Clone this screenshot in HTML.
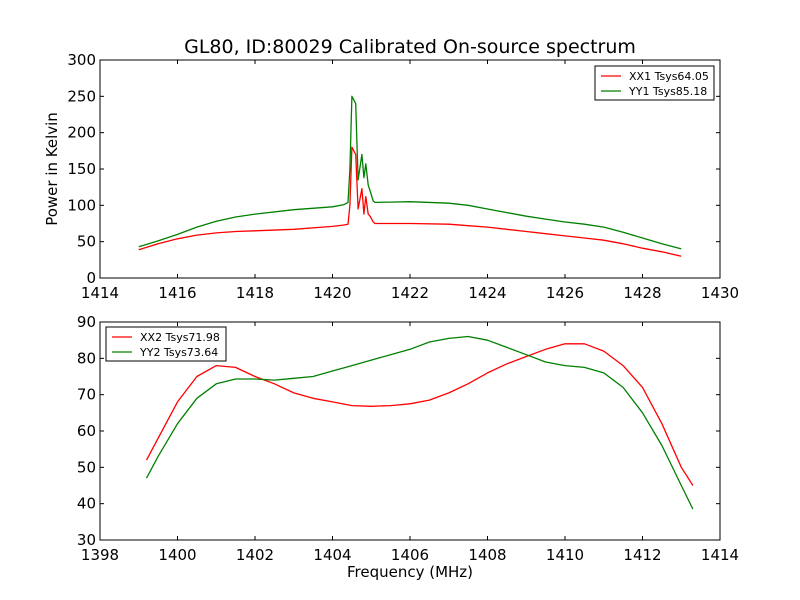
<!DOCTYPE html>
<html><head><meta charset="utf-8"><style>
body{margin:0;background:#fff}
svg{display:block;font-family:"DejaVu Sans","Liberation Sans",sans-serif}
</style></head><body>
<svg id="c" width="800" height="600">
<rect width="800" height="600" fill="#fff"/>
<text x="410" y="53" font-size="19" text-anchor="middle">GL80, ID:80029 Calibrated On-source spectrum</text>
<text transform="translate(57,169) rotate(-90)" font-size="15" text-anchor="middle">Power in Kelvin</text>
<text x="410" y="577" font-size="15" text-anchor="middle">Frequency (MHz)</text>
</svg>
<script>
const topFreqX=[1415,1415.5,1416,1416.5,1417,1417.5,1418,1419,1420,1420.3,1420.4,1420.45,1420.5,1420.6,1420.66,1420.76,1420.81,1420.86,1420.92,1420.97,1421.05,1421.1,1421.5,1422,1423,1423.5,1424,1424.5,1425,1425.5,1426,1426.5,1427,1427.5,1428,1428.5,1429];
const xx1Values=[39,47,54,59,62,64,65,67,71,73,74,100,180,170,95,123,88,112,88,85,77,75,75,75,74,72,70,67,64,61,58,55,52,47,41,36,30];
const yy1Values=[43,51,60,70,78,84,88,94,98,101,104,150,250,240,135,170,138,157,128,120,106,104,104.5,105,103,100,95,90,85,81,77,74,70,63,55,47,40];
const botFreqX=[1399.2,1399.5,1400,1400.5,1401,1401.5,1402,1402.5,1403,1403.5,1404,1404.5,1405,1405.5,1406,1406.5,1407,1407.5,1408,1408.5,1409,1409.5,1410,1410.5,1411,1411.5,1412,1412.5,1413,1413.3];
const xx2Values=[52,58,68,75,78,77.5,75,73,70.5,69,68,67,66.8,67,67.5,68.5,70.5,73,76,78.5,80.5,82.5,84,84,82,78,72,62,50,45];
const yy2Values=[47,53,62,69,73,74.3,74.3,74,74.5,75,76.5,78,79.5,81,82.5,84.5,85.5,86,85,83,81,79,78,77.5,76,72,65,56,45,38.5];
const topXTicks=[1414,1416,1418,1420,1422,1424,1426,1428,1430];
const topYTicks=[0,50,100,150,200,250,300];
const botXTicks=[1398,1400,1402,1404,1406,1408,1410,1412,1414];
const botYTicks=[30,40,50,60,70,80,90];
const svg=document.getElementById('c');
const NS='http://www.w3.org/2000/svg';
function mk(t,a){const e=document.createElementNS(NS,t);for(const k in a)e.setAttribute(k,a[k]);svg.appendChild(e);return e;}
function panel(name,top,x0,x1,y0,y1,xt,yt,series,legend){
  const L=100,R=720,T=top,B=top+218;
  const sx=v=>L+(v-x0)/(x1-x0)*(R-L), sy=v=>B-(v-y0)/(y1-y0)*(B-T);
  series.forEach(s=>{
    const pts=s.x.map((f,i)=>sx(f).toFixed(1)+','+sy(s.y[i]).toFixed(1)).join(' ');
    const p=mk('polyline',{points:pts,fill:'none',stroke:s.c,'stroke-width':1.3,'stroke-linejoin':'round'});
    
    
  });
  const fr=mk('rect',{x:L,y:T,width:R-L,height:B-T,fill:'none',stroke:'#000','stroke-width':1});
  
  
  xt.forEach(v=>{const x=sx(v);
    mk('line',{x1:x,x2:x,y1:B,y2:B-4,stroke:'#000'});mk('line',{x1:x,x2:x,y1:T,y2:T+4,stroke:'#000'});
    const t=mk('text',{x:x,y:B+20,'font-size':15,'text-anchor':'middle'});t.textContent=v;
    
    });
  yt.forEach(v=>{const y=sy(v);
    mk('line',{x1:L,x2:L+4,y1:y,y2:y,stroke:'#000'});mk('line',{x1:R,x2:R-4,y1:y,y2:y,stroke:'#000'});
    const t=mk('text',{x:L-4,y:y+5,'font-size':15,'text-anchor':'end'});t.textContent=v;
    
    });
  const lg=mk('rect',{x:legend.x,y:legend.y,width:legend.w,height:34,fill:'#fff',stroke:'#000'});
  
  
  series.forEach((s,i)=>{const y=legend.y+10+i*15;
    mk('line',{x1:legend.x+6,x2:legend.x+26,y1:y,y2:y,stroke:s.c,'stroke-width':1.3});
    const t=mk('text',{x:legend.x+34,y:y+4,'font-size':11});t.textContent=s.l;
    
    });
}
panel('top-panel',60,1414,1430,0,300,topXTicks,topYTicks,[
 {x:topFreqX,y:xx1Values,c:'#ff0000',n:'xx1-line',l:'XX1 Tsys64.05'},
 {x:topFreqX,y:yy1Values,c:'#008000',n:'yy1-line',l:'YY1 Tsys85.18'}],{x:595,y:66,w:119});
panel('bottom-panel',322,1398,1414,30,90,botXTicks,botYTicks,[
 {x:botFreqX,y:xx2Values,c:'#ff0000',n:'xx2-line',l:'XX2 Tsys71.98'},
 {x:botFreqX,y:yy2Values,c:'#008000',n:'yy2-line',l:'YY2 Tsys73.64'}],{x:106,y:327,w:120});
</script>
</body></html>
